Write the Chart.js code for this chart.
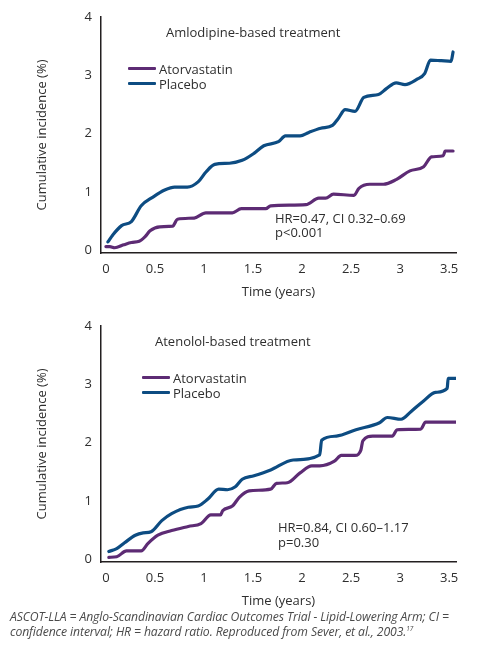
<!DOCTYPE html>
<html>
<head>
<meta charset="utf-8">
<script src="https://cdn.jsdelivr.net/npm/chart.js@4.4.1/dist/chart.umd.min.js"></script>
<style>
  body { margin: 0; background: #fff; font-family: "Open Sans", sans-serif; color: #2e2e2e; }
  #page { position: relative; width: 481px; height: 649px; overflow: hidden; }
  .box { position: absolute; left: 0; width: 481px; height: 300px; }
  .txt { position: absolute; font-size: 13px; line-height: 16px; white-space: nowrap; color: #2e2e2e; }
  .swatch { position: absolute; width: 28px; height: 3px; border-radius: 1px; }
  #note { position: absolute; left: 10px; top: 609px; width: 470px; font-size: 12.2px; line-height: 15px;
          font-style: italic; color: #4a4a4a; letter-spacing: -0.1px; white-space: nowrap; }
  #note sup { font-size: 6.5px; vertical-align: 5px; line-height: 0; }
</style>
</head>
<body>
<div id="page">
  <div class="box" style="top:0"><canvas id="chartAmlo"></canvas></div>
  <div class="box" style="top:309px"><canvas id="chartAten"></canvas></div>

  <div class="txt" style="left:166px; top:24px">Amlodipine-based treatment</div>
  <div class="swatch" style="left:128px; top:67px; background:#5d2b74"></div>
  <div class="txt" style="left:159px; top:61px">Atorvastatin</div>
  <div class="swatch" style="left:128px; top:82px; background:#0d4c82"></div>
  <div class="txt" style="left:159px; top:76px">Placebo</div>
  <div class="txt" style="left:275px; top:210px">HR=0.47, CI 0.32–0.69</div>
  <div class="txt" style="left:275px; top:224px">p&lt;0.001</div>

  <div class="txt" style="left:155px; top:333px">Atenolol-based treatment</div>
  <div class="swatch" style="left:142px; top:376px; background:#5d2b74"></div>
  <div class="txt" style="left:173px; top:370px">Atorvastatin</div>
  <div class="swatch" style="left:142px; top:391px; background:#0d4c82"></div>
  <div class="txt" style="left:173px; top:385px">Placebo</div>
  <div class="txt" style="left:278px; top:519px">HR=0.84, CI 0.60–1.17</div>
  <div class="txt" style="left:278px; top:534px">p=0.30</div>

  <div id="note">ASCOT-LLA = Anglo-Scandinavian Cardiac Outcomes Trial - Lipid-Lowering Arm; CI =<br>confidence interval; HR = hazard ratio. Reproduced from Sever, et al., 2003.<sup>17</sup></div>
</div>

<script>
// tick values
const xTickValues = [0, 0.5, 1, 1.5, 2, 2.5, 3, 3.5];
const yTickValues = [0, 1, 2, 3, 4];

// Amlodipine-based treatment (time in years, cumulative incidence %)
const amloPlaceboX = [0.02, 0.07, 0.16, 0.26, 0.36, 0.48, 0.60, 0.70, 0.83, 0.94, 1.02, 1.11, 1.26, 1.39, 1.51, 1.61, 1.76, 1.83, 1.98, 2.07, 2.19, 2.31, 2.37, 2.44, 2.54, 2.63, 2.78, 2.86, 2.96, 3.05, 3.17, 3.25, 3.31, 3.42, 3.52, 3.54];
const amloPlaceboY = [0.14, 0.26, 0.42, 0.49, 0.76, 0.91, 1.03, 1.08, 1.08, 1.17, 1.34, 1.47, 1.49, 1.54, 1.66, 1.79, 1.86, 1.96, 1.96, 2.02, 2.09, 2.14, 2.26, 2.41, 2.38, 2.62, 2.67, 2.77, 2.87, 2.84, 2.93, 3.03, 3.26, 3.25, 3.24, 3.40];
const amloAtorX = [0.00, 0.04, 0.09, 0.18, 0.26, 0.34, 0.40, 0.45, 0.55, 0.68, 0.73, 0.90, 1.02, 1.29, 1.38, 1.63, 1.68, 2.04, 2.17, 2.24, 2.32, 2.53, 2.58, 2.69, 2.83, 2.96, 3.10, 3.24, 3.32, 3.44, 3.46, 3.54];
const amloAtorY = [0.06, 0.06, 0.04, 0.09, 0.13, 0.15, 0.23, 0.33, 0.40, 0.41, 0.53, 0.55, 0.64, 0.64, 0.71, 0.71, 0.76, 0.78, 0.89, 0.89, 0.96, 0.94, 1.06, 1.13, 1.13, 1.21, 1.36, 1.43, 1.60, 1.62, 1.70, 1.70];

// Atenolol-based treatment
const atenPlaceboX = [0.03, 0.11, 0.19, 0.30, 0.38, 0.46, 0.57, 0.67, 0.84, 0.94, 1.04, 1.15, 1.24, 1.32, 1.39, 1.51, 1.68, 1.91, 2.18, 2.20, 2.35, 2.55, 2.79, 2.87, 3.01, 3.11, 3.23, 3.36, 3.48, 3.49, 3.57];
const atenPlaceboY = [0.13, 0.18, 0.28, 0.41, 0.45, 0.47, 0.66, 0.78, 0.89, 0.91, 1.03, 1.20, 1.19, 1.24, 1.37, 1.43, 1.53, 1.70, 1.79, 2.04, 2.11, 2.22, 2.34, 2.43, 2.40, 2.53, 2.70, 2.86, 2.93, 3.10, 3.10];
const atenAtorX = [0.03, 0.11, 0.21, 0.36, 0.43, 0.53, 0.67, 0.84, 0.97, 1.07, 1.17, 1.19, 1.29, 1.36, 1.46, 1.68, 1.74, 1.85, 1.98, 2.10, 2.18, 2.33, 2.40, 2.54, 2.60, 2.62, 2.72, 2.92, 2.97, 3.21, 3.26, 3.57];
const atenAtorY = [0.03, 0.04, 0.14, 0.14, 0.27, 0.41, 0.49, 0.56, 0.61, 0.76, 0.76, 0.83, 0.91, 1.06, 1.17, 1.20, 1.30, 1.31, 1.48, 1.60, 1.60, 1.68, 1.78, 1.78, 1.87, 2.03, 2.11, 2.11, 2.22, 2.23, 2.35, 2.35];

const purple = '#5d2b74';
const blue = '#0d4c82';
const axisColor = '#231f20';
const textColor = '#2e2e2e';

function toPoints(xs, ys) {
  return xs.map((x, i) => ({ x: x, y: ys[i] }));
}

function makeChart(id, atorX, atorY, placeboX, placeboY) {
  const ctx = document.getElementById(id).getContext('2d');
  return new Chart(ctx, {
    type: 'line',
    data: {
      datasets: [
        { label: 'Atorvastatin', data: toPoints(atorX, atorY), borderColor: purple },
        { label: 'Placebo', data: toPoints(placeboX, placeboY), borderColor: blue }
      ]
    },
    options: {
      responsive: true,
      maintainAspectRatio: false,
      animation: false,
      devicePixelRatio: 1,
      layout: { padding: { top: 17, right: 25, left: 0, bottom: 0 } },
      elements: {
        point: { radius: 0 },
        line: { borderWidth: 3.2, cubicInterpolationMode: 'monotone', borderCapStyle: 'round', borderJoinStyle: 'round' }
      },
      plugins: {
        legend: { display: false },
        tooltip: { enabled: false }
      },
      scales: {
        x: {
          type: 'linear',
          min: -0.05,
          max: 3.57,
          afterBuildTicks: s => { s.ticks = xTickValues.map(v => ({ value: v })); },
          afterFit: s => { s.height = 47; },
          grid: { display: false, drawTicks: false },
          border: { display: true, color: axisColor, width: 1.5 },
          ticks: {
            padding: 8,
            color: textColor,
            font: { family: 'Open Sans', size: 13 },
            maxRotation: 0,
            autoSkip: false,
            callback: v => String(v)
          },
          title: {
            display: true,
            text: 'Time (years)',
            color: textColor,
            font: { family: 'Open Sans', size: 13 },
            padding: { top: 0, bottom: 0 }
          }
        },
        y: {
          type: 'linear',
          min: -0.05,
          max: 4,
          afterBuildTicks: s => { s.ticks = yTickValues.map(v => ({ value: v })); },
          afterFit: s => { s.width = 101; },
          grid: { display: false, drawTicks: false },
          border: { display: true, color: axisColor, width: 1.5 },
          ticks: {
            padding: 9,
            color: textColor,
            font: { family: 'Open Sans', size: 13 },
            callback: v => String(v)
          },
          title: {
            display: true,
            text: 'Cumulative incidence (%)',
            color: textColor,
            font: { family: 'Open Sans', size: 13 },
            padding: { top: 34, bottom: 0 }
          }
        }
      }
    }
  });
}

makeChart('chartAmlo', amloAtorX, amloAtorY, amloPlaceboX, amloPlaceboY);
makeChart('chartAten', atenAtorX, atenAtorY, atenPlaceboX, atenPlaceboY);
</script>
</body>
</html>
